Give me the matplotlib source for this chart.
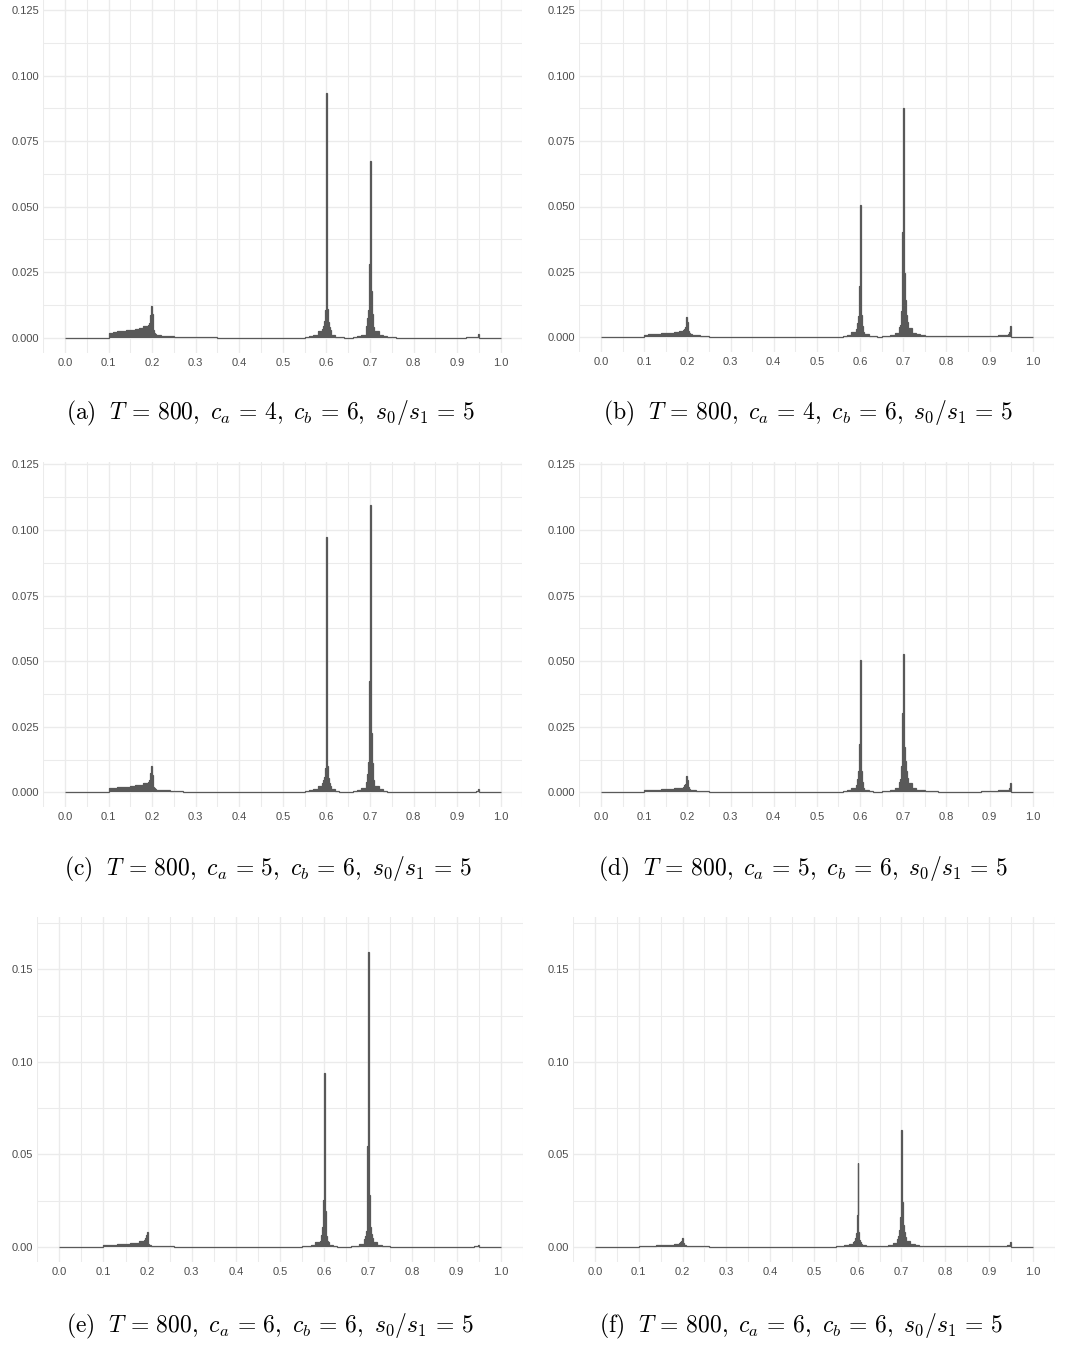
import numpy as np
import matplotlib
matplotlib.use("Agg")
import matplotlib.pyplot as plt
from matplotlib.ticker import FixedLocator, FixedFormatter

plt.rcParams['mathtext.fontset'] = 'cm'
plt.rcParams['font.family'] = ['Liberation Sans', 'DejaVu Sans']

# ---------------- data ----------------
# shared (variable-width) histogram bin edges
bin_edges = np.concatenate([
    [0.0, 0.10],
    np.linspace(0.11, 0.19, 9),
    np.linspace(0.192, 0.21, 10),
    np.linspace(0.22, 0.30, 9),
    np.linspace(0.35, 0.55, 5),
    np.linspace(0.56, 0.59, 4),
    np.linspace(0.592, 0.61, 10),
    np.linspace(0.62, 0.69, 8),
    np.linspace(0.692, 0.71, 10),
    np.linspace(0.72, 0.80, 9),
    np.linspace(0.82, 0.94, 7),
    np.linspace(0.942, 0.95, 5),
    [1.0],
])

hist_a = [0.0,
          0.0019, 0.0022, 0.0024, 0.0026, 0.0028, 0.0031, 0.0034, 0.0038, 0.0044,
          0.0050, 0.0056, 0.0066, 0.0085, 0.0121, 0.0090, 0.0030, 0.0018, 0.0015, 0.0013,
          0.0011, 0.0008, 0.0006, 0.0005, 0.0004, 0.0003, 0.0002, 0.0002, 0.0001,
          0.00008, 0.00002, 0.0, 0.0, 0.00005,
          0.0004, 0.0007, 0.0012, 0.0025,
          0.0035, 0.0045, 0.0065, 0.0105, 0.0288, 0.0935, 0.0110, 0.0060, 0.0040, 0.0028,
          0.0012, 0.0003, 0.0001, 0.00005, 0.0, 0.0001, 0.0005, 0.0012,
          0.0045, 0.0055, 0.0075, 0.0105, 0.0280, 0.0675, 0.0180, 0.0090, 0.0060, 0.0040,
          0.0025, 0.0012, 0.0006, 0.0003, 0.0001, 0.0, 0.0, 0.0, 0.0,
          0.0, 0.0, 0.0, 0.0, 0.0, 0.00005, 0.0001,
          0.0002, 0.0003, 0.0003, 0.0004, 0.0013,
          0.0]

hist_b = [0.0,
          0.0010, 0.0012, 0.0013, 0.0014, 0.0015, 0.0016, 0.0018, 0.0020, 0.0024,
          0.0028, 0.0033, 0.0040, 0.0055, 0.0079, 0.0060, 0.0025, 0.0016, 0.0013, 0.0011,
          0.0009, 0.0007, 0.0005, 0.0004, 0.0003, 0.0002, 0.0001, 0.0001, 0.00005,
          0.00003, 0.0, 0.0, 0.00003, 0.0001,
          0.0003, 0.0006, 0.0010, 0.0020,
          0.0030, 0.0040, 0.0055, 0.0080, 0.0196, 0.0505, 0.0085, 0.0045, 0.0030, 0.0020,
          0.0012, 0.0006, 0.0004, 0.0003, 0.0004, 0.0006, 0.0010, 0.0018,
          0.0038, 0.0048, 0.0065, 0.0100, 0.0404, 0.0877, 0.0244, 0.0143, 0.0085, 0.0058,
          0.0035, 0.0018, 0.0011, 0.0008, 0.0006, 0.0005, 0.0005, 0.0004, 0.0004,
          0.0004, 0.0004, 0.0004, 0.0004, 0.0005, 0.0006, 0.0008,
          0.0010, 0.0012, 0.0015, 0.0020, 0.0045,
          0.0]

hist_c = [0.0,
          0.0015, 0.0018, 0.0019, 0.0020, 0.0022, 0.0024, 0.0026, 0.0029, 0.0035,
          0.0040, 0.0046, 0.0055, 0.0072, 0.0100, 0.0065, 0.0022, 0.0016, 0.0013, 0.0012,
          0.0010, 0.0008, 0.0007, 0.0006, 0.0005, 0.0004, 0.0003, 0.0003, 0.0002,
          0.0002, 0.0001, 0.00005, 0.00003, 0.0001,
          0.0004, 0.0007, 0.0012, 0.0025,
          0.0035, 0.0045, 0.0060, 0.0094, 0.0265, 0.0974, 0.0100, 0.0055, 0.0035, 0.0025,
          0.0012, 0.0004, 0.0002, 0.0001, 0.0002, 0.0004, 0.0008, 0.0015,
          0.0040, 0.0050, 0.0070, 0.0115, 0.0426, 0.1095, 0.0227, 0.0110, 0.0065, 0.0045,
          0.0025, 0.0012, 0.0006, 0.0003, 0.0002, 0.0001, 0.0001, 0.00005, 0.00005,
          0.00005, 0.0001, 0.0001, 0.0001, 0.0001, 0.0002, 0.0002,
          0.0003, 0.0003, 0.0004, 0.0006, 0.0012,
          0.0]

hist_d = [0.0,
          0.0007, 0.0009, 0.0010, 0.0010, 0.0011, 0.0012, 0.0013, 0.0015, 0.0018,
          0.0022, 0.0026, 0.0032, 0.0042, 0.0062, 0.0045, 0.0020, 0.0013, 0.0010, 0.0009,
          0.0007, 0.0005, 0.0004, 0.0004, 0.0003, 0.0002, 0.0002, 0.0001, 0.0001,
          0.00005, 0.00003, 0.00003, 0.00005, 0.0001,
          0.0003, 0.0005, 0.0009, 0.0018,
          0.0028, 0.0038, 0.0052, 0.0080, 0.0184, 0.0504, 0.0080, 0.0040, 0.0025, 0.0018,
          0.0010, 0.0005, 0.0003, 0.0003, 0.0004, 0.0006, 0.0010, 0.0018,
          0.0040, 0.0050, 0.0068, 0.0100, 0.0301, 0.0527, 0.0174, 0.0120, 0.0080, 0.0055,
          0.0035, 0.0018, 0.0010, 0.0007, 0.0005, 0.0004, 0.0004, 0.0003, 0.0003,
          0.0003, 0.0003, 0.0003, 0.0003, 0.0004, 0.0005, 0.0007,
          0.0009, 0.0010, 0.0012, 0.0016, 0.0035,
          0.0]

hist_e = [0.0,
          0.0010, 0.0012, 0.0013, 0.0014, 0.0016, 0.0018, 0.0020, 0.0024, 0.0030,
          0.0034, 0.0040, 0.0050, 0.0065, 0.0081, 0.0045, 0.0018, 0.0012, 0.0010, 0.0008,
          0.0007, 0.0005, 0.0004, 0.0003, 0.0003, 0.0002, 0.0002, 0.0002, 0.0001,
          0.0001, 0.0001, 0.0001, 0.00005, 0.0001,
          0.0003, 0.0006, 0.0012, 0.0025,
          0.0035, 0.0045, 0.0065, 0.0110, 0.0254, 0.0942, 0.0194, 0.0060, 0.0035, 0.0025,
          0.0010, 0.0003, 0.0002, 0.0001, 0.0002, 0.0003, 0.0006, 0.0015,
          0.0045, 0.0060, 0.0085, 0.0187, 0.0547, 0.1595, 0.0281, 0.0110, 0.0070, 0.0050,
          0.0025, 0.0010, 0.0005, 0.0003, 0.0002, 0.0001, 0.0001, 0.0001, 0.0001,
          0.0001, 0.0001, 0.0001, 0.0001, 0.0001, 0.0002, 0.0002,
          0.0003, 0.0004, 0.0005, 0.0006, 0.0010,
          0.0]

hist_f = [0.0,
          0.0006, 0.0007, 0.0008, 0.0008, 0.0009, 0.0009, 0.0010, 0.0011, 0.0014,
          0.0017, 0.0021, 0.0026, 0.0035, 0.0050, 0.0040, 0.0020, 0.0012, 0.0009, 0.0008,
          0.0006, 0.0005, 0.0004, 0.0003, 0.0003, 0.0002, 0.0002, 0.0002, 0.0002,
          0.0001, 0.0001, 0.0001, 0.0001, 0.0001,
          0.0003, 0.0005, 0.0009, 0.0018,
          0.0028, 0.0035, 0.0050, 0.0074, 0.0173, 0.0452, 0.0080, 0.0040, 0.0025, 0.0018,
          0.0010, 0.0005, 0.0003, 0.0003, 0.0004, 0.0006, 0.0010, 0.0020,
          0.0045, 0.0060, 0.0090, 0.0164, 0.0344, 0.0632, 0.0245, 0.0120, 0.0080, 0.0055,
          0.0035, 0.0018, 0.0010, 0.0007, 0.0005, 0.0004, 0.0003, 0.0003, 0.0003,
          0.0003, 0.0003, 0.0003, 0.0003, 0.0004, 0.0004, 0.0006,
          0.0008, 0.0009, 0.0010, 0.0013, 0.0029,
          0.0]

params_ca = ['4', '4', '5', '5', '6', '6']
panel_letters = ['a', 'b', 'c', 'd', 'e', 'f']

x_ticks = [0.0, 0.1, 0.2, 0.3, 0.4, 0.5, 0.6, 0.7, 0.8, 0.9, 1.0]
x_ticklabels = ['0.0', '0.1', '0.2', '0.3', '0.4', '0.5', '0.6', '0.7', '0.8', '0.9', '1.0']
y_ticks_top = [0.0, 0.025, 0.05, 0.075, 0.1, 0.125]
y_ticklabels_top = ['0.000', '0.025', '0.050', '0.075', '0.100', '0.125']
y_ticks_bot = [0.0, 0.05, 0.10, 0.15]
y_ticklabels_bot = ['0.00', '0.05', '0.10', '0.15']

# ---------------- layout (pixels) ----------------
W, H = 1065, 1345
fig = plt.figure(figsize=(W / 100, H / 100), dpi=100)

BAR = '#595959'
GRID = '#EBEBEB'
TXT = '#4D4D4D'

# (x pixel of 0, x pixel of 1, y pixel of 0, px per unit y, ymin, ymax)
geo = [
    (65.0, 500.7, 337.7, 2621.0, -0.0057, 0.1288),
    (601.0, 1032.7, 337.3, 2616.0, -0.0057, 0.1288),
    (65.0, 500.7, 792.3, 2624.0, -0.0055, 0.1260),
    (601.0, 1032.7, 792.3, 2624.0, -0.0055, 0.1260),
    (59.3, 500.7, 1247.0, 1851.0, -0.0079, 0.1784),
    (595.0, 1032.7, 1247.0, 1851.0, -0.0079, 0.1784),
]
hists = [hist_a, hist_b, hist_c, hist_d, hist_e, hist_f]
cap_pos = [(270, 413), (808, 413), (268, 869), (803, 869), (270, 1326), (801, 1326)]

for i, (x0, x1, y0, sy, ymin, ymax) in enumerate(geo):
    sx = x1 - x0
    left = x0 - 0.05 * sx
    right = x1 + 0.05 * sx
    top = y0 - ymax * sy
    bottom = y0 - ymin * sy
    ax = fig.add_axes([left / W, 1 - bottom / H, (right - left) / W, (bottom - top) / H])
    ax.set_xlim(-0.05, 1.05)
    ax.set_ylim(ymin, ymax)
    for s in ax.spines.values():
        s.set_visible(False)
    ax.set_facecolor('white')

    # grid
    xminor = [-0.05] + [k / 10 + 0.05 for k in range(10)] + [1.05]
    if i < 4:
        yt, yl = y_ticks_top, y_ticklabels_top
        yminor = [0.0125 + 0.025 * k for k in range(6)]
    else:
        yt, yl = y_ticks_bot, y_ticklabels_bot
        yminor = [0.025, 0.075, 0.125, 0.175]
    for xv in xminor:
        ax.axvline(xv, color=GRID, lw=0.75, zorder=0)
    for yv in yminor:
        ax.axhline(yv, color=GRID, lw=0.75, zorder=0)
    for xv in x_ticks:
        ax.axvline(xv, color=GRID, lw=1.0, zorder=0)
    for yv in yt:
        ax.axhline(yv, color=GRID, lw=1.0, zorder=0)

    vals = np.array(hists[i])
    ax.stairs(vals, bin_edges, fill=True, color=BAR, lw=0, zorder=2)
    ax.stairs(vals, bin_edges, fill=False, color=BAR, lw=0.9, zorder=3, baseline=None)

    ax.xaxis.set_major_locator(FixedLocator(x_ticks))
    ax.xaxis.set_major_formatter(FixedFormatter(x_ticklabels))
    ax.yaxis.set_major_locator(FixedLocator(yt))
    ax.yaxis.set_major_formatter(FixedFormatter(yl))
    ax.tick_params(axis='both', length=0, labelsize=8, labelcolor=TXT)
    ax.tick_params(axis='x', pad=3.6)
    ax.tick_params(axis='y', pad=2.9)

    cap = (r'$\mathrm{(' + panel_letters[i] + r')}\ \ T \,=\, 800,\ c_a \,=\, ' + params_ca[i]
           + r',\ c_b \,=\, 6,\ s_0/s_1 \,=\, 5$')
    cx, cy = cap_pos[i]
    fig.text(cx / W, 1 - cy / H, cap, ha='center', va='center', fontsize=17, color='black')

fig.savefig('out.png', dpi=100)
